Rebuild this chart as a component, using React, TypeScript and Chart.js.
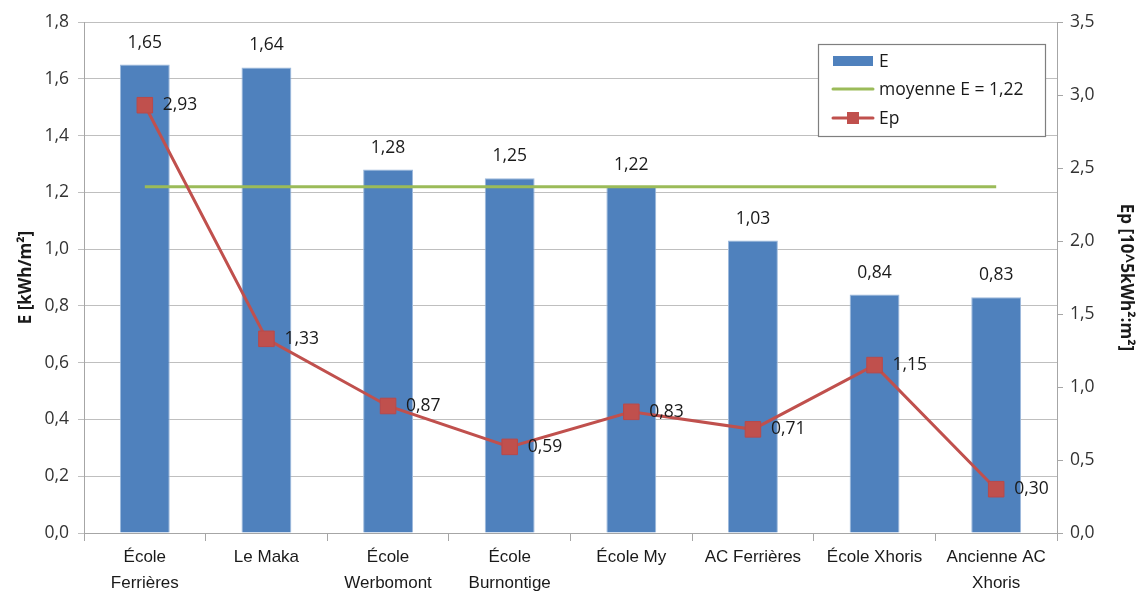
import React, { useEffect, useRef } from "react";
import { Chart, registerables } from "chart.js";

Chart.register(...registerables);

const categories: string[][] = [
  ["École", "Ferrières"],
  ["Le Maka"],
  ["École", "Werbomont"],
  ["École", "Burnontige"],
  ["École My"],
  ["AC Ferrières"],
  ["École Xhoris"],
  ["Ancienne AC", "Xhoris"],
];
const eValues = [1.65, 1.64, 1.28, 1.25, 1.22, 1.03, 0.84, 0.83];
const meanE = 1.22;
const meanValues = categories.map(() => meanE);
const epValues = [2.93, 1.33, 0.87, 0.59, 0.83, 0.71, 1.15, 0.3];

const BLUE = "#4F81BD";
const GREEN = "#9BBB59";
const RED = "#C0504D";
const NUM_FONT = "'Open Sans', sans-serif";
const fmt = (v: number, d: number) => v.toFixed(d).replace(".", ",");

const labelsPlugin = {
  id: "valueLabels",
  afterDatasetsDraw(chart: any) {
    const ctx = chart.ctx;
    ctx.save();
    ctx.font = `17.5px ${NUM_FONT}`;
    ctx.fillStyle = "#1a1a1a";
    const barMeta = chart.getDatasetMeta(0);
    ctx.textAlign = "center";
    ctx.textBaseline = "middle";
    barMeta.data.forEach((el: any, i: number) => {
      ctx.fillText(fmt(eValues[i], 2), el.x, el.y - 22);
    });
    const epMeta = chart.getDatasetMeta(2);
    ctx.textAlign = "left";
    epMeta.data.forEach((el: any, i: number) => {
      ctx.fillText(fmt(epValues[i], 2), el.x + 18, el.y);
    });
    ctx.restore();
  },
};

const legendPlugin = {
  id: "boxLegend",
  afterDraw(chart: any) {
    const ctx = chart.ctx;
    const x0 = 818, y0 = 44, x1 = 1045, y1 = 136;
    ctx.save();
    ctx.fillStyle = "#fff";
    ctx.fillRect(x0, y0, x1 - x0, y1 - y0);
    ctx.strokeStyle = "#7f7f7f";
    ctx.lineWidth = 1.2;
    ctx.strokeRect(x0 + 0.5, y0 + 0.5, x1 - x0, y1 - y0);
    const rows = [y0 + 17, y0 + 45, y0 + 74];
    const names = chart.data.datasets.map((d: any) => d.label);
    ctx.font = `17.5px ${NUM_FONT}`;
    ctx.textAlign = "left";
    ctx.textBaseline = "middle";
    // E
    ctx.fillStyle = BLUE;
    ctx.fillRect(833, rows[0] - 5, 40, 10);
    // mean
    ctx.strokeStyle = GREEN;
    ctx.lineWidth = 3;
    ctx.lineCap = "round";
    ctx.beginPath();
    ctx.moveTo(833, rows[1]);
    ctx.lineTo(873, rows[1]);
    ctx.stroke();
    // Ep
    ctx.strokeStyle = RED;
    ctx.beginPath();
    ctx.moveTo(833, rows[2]);
    ctx.lineTo(873, rows[2]);
    ctx.stroke();
    ctx.fillStyle = RED;
    ctx.fillRect(847, rows[2] - 6, 12, 12);
    ctx.fillStyle = "#1a1a1a";
    names.forEach((n: string, i: number) => ctx.fillText(n, 879, rows[i] + 1));
    ctx.restore();
  },
};

export default function App() {
  const ref = useRef<HTMLCanvasElement | null>(null);
  useEffect(() => {
    document.body.style.margin = "0";
    const chart = new Chart(ref.current as HTMLCanvasElement, {
      type: "bar",
      data: {
        labels: categories as any,
        datasets: [
          {
            type: "bar",
            label: "E",
            data: eValues,
            backgroundColor: BLUE,
            borderColor: "#9DB9DC",
            borderWidth: 1,
            barPercentage: 0.41,
            categoryPercentage: 1,
            yAxisID: "y",
            order: 3,
          },
          {
            type: "line",
            label: "moyenne E = " + fmt(meanE, 2),
            data: meanValues,
            borderColor: GREEN,
            borderWidth: 3,
            pointRadius: 0,
            yAxisID: "y",
            order: 2,
          },
          {
            type: "line",
            label: "Ep",
            data: epValues,
            borderColor: RED,
            borderWidth: 3,
            pointStyle: "rect",
            pointRadius: 11,
            pointBackgroundColor: RED,
            pointBorderColor: "#B9494A",
            pointBorderWidth: 1,
            yAxisID: "y1",
            order: 1,
          },
        ] as any,
      },
      plugins: [labelsPlugin, legendPlugin],
      options: {
        animation: false,
        responsive: true,
        maintainAspectRatio: false,
        layout: { padding: { top: 22, left: 0, right: 0, bottom: 0 } },
        plugins: { legend: { display: false }, tooltip: { enabled: false } },
        scales: {
          x: {
            afterFit: (s: any) => { s.height = 59; },
            grid: { offset: true, drawOnChartArea: false, tickLength: 8, color: "#A6A6A6" },
            border: { color: "#A6A6A6" },
            ticks: {
              font: { family: "'Liberation Sans', sans-serif", size: 17, lineHeight: 1.5 },
              color: "#1a1a1a",
              padding: 4,
              maxRotation: 0,
              autoSkip: false,
            },
          },
          y: {
            position: "left",
            min: 0,
            max: 1.8,
            afterFit: (s: any) => { s.width = 84; },
            ticks: {
              stepSize: 0.2,
              callback: (v: any) => fmt(Number(v), 1),
              font: { family: NUM_FONT, size: 17.5 },
              color: "#333",
              padding: 9,
            },
            grid: { color: "#BFBFBF", tickLength: 6, lineWidth: 1 },
            border: { color: "#A6A6A6" },
            title: {
              display: true,
              text: "E [kWh/m²]",
              font: { family: NUM_FONT, size: 17, weight: "bold" },
              color: "#1a1a1a",
              padding: { top: 16 },
            },
          },
          y1: {
            position: "right",
            min: 0,
            max: 3.5,
            afterFit: (s: any) => { s.width = 81; },
            ticks: {
              stepSize: 0.5,
              callback: (v: any) => fmt(Number(v), 1),
              font: { family: NUM_FONT, size: 17.5 },
              color: "#333",
              padding: 7,
            },
            grid: { drawOnChartArea: false, tickLength: 6, color: "#A6A6A6" },
            border: { color: "#A6A6A6" },
            title: {
              display: true,
              text: "Ep [10^5kWh²:m²]",
              font: { family: NUM_FONT, size: 17, weight: "bold" },
              color: "#1a1a1a",
              padding: { top: 2 },
            },
          },
        },
      } as any,
    });
    return () => chart.destroy();
  }, []);
  return (
    <div style={{ position: "relative", width: 1138, height: 592, overflow: "hidden" }}>
      <canvas ref={ref} />
    </div>
  );
}
